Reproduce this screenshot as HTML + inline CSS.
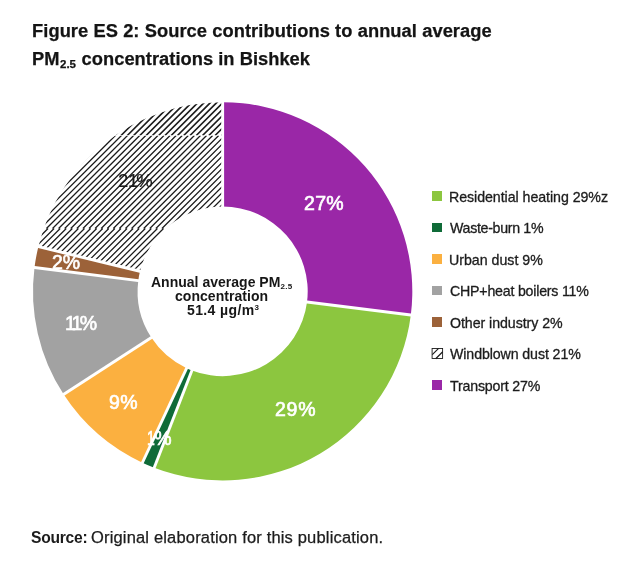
<!DOCTYPE html>
<html lang="en">
<head>
<meta charset="utf-8">
<title>Figure ES 2</title>
<style>
html,body{margin:0;padding:0;background:#fff;}
body{width:638px;height:568px;position:relative;overflow:hidden;font-family:"Liberation Sans",sans-serif;color:#1c1c1c;}
.t{position:absolute;white-space:nowrap;line-height:1;}
.title{font-weight:bold;color:#141414;-webkit-text-stroke:0.25px #141414;}
.title sub{font-size:11.5px;vertical-align:baseline;position:relative;top:3.4px;letter-spacing:0;margin:0 0.5px;}
.lg{-webkit-text-stroke:0.3px #1c1c1c;}
.lab{color:#fff;-webkit-text-stroke:0.65px #fff;}
.lab21{color:#1c1c1c;-webkit-text-stroke:0.2px #1c1c1c;}
.ctr{font-weight:bold;color:#161616;}
.ctr sub,.ctr sup{font-size:8px;vertical-align:baseline;position:relative;letter-spacing:0.3px;}
.ctr sub{top:2px;} .ctr sup{top:-4.5px;}
.srcb{font-weight:bold;}
.src{-webkit-text-stroke:0.25px #1c1c1c;transform:scaleX(1.03);transform-origin:0 0;}
.sq{position:absolute;left:432.2px;width:9.6px;height:9.7px;}
svg{position:absolute;left:0;top:0;}
</style>
</head>
<body>
<svg width="638" height="568" viewBox="0 0 638 568">
<defs><clipPath id="cw"><path d="M38.91 246.66A189.1 189.1 0 0 1 222.65 102.25L222.65 206.55A84.8 84.8 0 0 0 140.25 271.31Z"/></clipPath></defs>
<g transform="translate(222.65,0) scale(1.003,1) translate(-222.65,0)">
<path d="M222.65 102.25A189.1 189.1 0 0 1 410.26 315.05L306.78 301.98A84.8 84.8 0 0 0 222.65 206.55Z" fill="#9a27a7"/>
<path d="M410.26 315.05A189.1 189.1 0 0 1 154.45 467.72L192.07 370.44A84.8 84.8 0 0 0 306.78 301.98Z" fill="#8cc63f"/>
<path d="M154.45 467.72A189.1 189.1 0 0 1 142.61 462.68L186.76 368.18A84.8 84.8 0 0 0 192.07 370.44Z" fill="#0f6b38"/>
<path d="M142.61 462.68A189.1 189.1 0 0 1 64.06 394.34L151.53 337.54A84.8 84.8 0 0 0 186.76 368.18Z" fill="#fbb040"/>
<path d="M64.06 394.34A189.1 189.1 0 0 1 35.06 267.52L138.53 280.66A84.8 84.8 0 0 0 151.53 337.54Z" fill="#a2a2a2"/>
<path d="M35.06 267.52A189.1 189.1 0 0 1 38.91 246.66L140.25 271.31A84.8 84.8 0 0 0 138.53 280.66Z" fill="#9c6239"/>
<path d="M-3.65 135.50L31.85 100.00M2.60 135.50L38.10 100.00M8.85 135.50L44.35 100.00M15.10 135.50L50.60 100.00M21.35 135.50L56.85 100.00M27.60 135.50L63.10 100.00M33.85 135.50L69.35 100.00M40.10 135.50L75.60 100.00M46.35 135.50L81.85 100.00M52.60 135.50L88.10 100.00M58.85 135.50L94.35 100.00M65.10 135.50L100.60 100.00M71.35 135.50L106.85 100.00M77.60 135.50L113.10 100.00M83.85 135.50L119.35 100.00M90.10 135.50L125.60 100.00M96.35 135.50L131.85 100.00M102.60 135.50L138.10 100.00M108.85 135.50L144.35 100.00M115.10 135.50L150.60 100.00M121.35 135.50L156.85 100.00M127.60 135.50L163.10 100.00M133.85 135.50L169.35 100.00M140.10 135.50L175.60 100.00M146.35 135.50L181.85 100.00M152.60 135.50L188.10 100.00M158.85 135.50L194.35 100.00M165.10 135.50L200.60 100.00M171.35 135.50L206.85 100.00M177.60 135.50L213.10 100.00M183.85 135.50L219.35 100.00M190.10 135.50L225.60 100.00M196.35 135.50L231.85 100.00M202.60 135.50L238.10 100.00M208.85 135.50L244.35 100.00M215.10 135.50L250.60 100.00M221.35 135.50L256.85 100.00" stroke="#1c1c1c" stroke-width="1.7" fill="none" clip-path="url(#cw)"/>
<path d="M-62.12 228.50L30.88 135.50M-56.06 228.50L36.94 135.50M-50.00 228.50L43.00 135.50M-43.94 228.50L49.06 135.50M-37.88 228.50L55.12 135.50M-31.82 228.50L61.18 135.50M-25.76 228.50L67.24 135.50M-19.70 228.50L73.30 135.50M-13.64 228.50L79.36 135.50M-7.58 228.50L85.42 135.50M-1.52 228.50L91.48 135.50M4.54 228.50L97.54 135.50M10.60 228.50L103.60 135.50M16.66 228.50L109.66 135.50M22.72 228.50L115.72 135.50M28.78 228.50L121.78 135.50M34.84 228.50L127.84 135.50M40.90 228.50L133.90 135.50M46.96 228.50L139.96 135.50M53.02 228.50L146.02 135.50M59.08 228.50L152.08 135.50M65.14 228.50L158.14 135.50M71.20 228.50L164.20 135.50M77.26 228.50L170.26 135.50M83.32 228.50L176.32 135.50M89.38 228.50L182.38 135.50M95.44 228.50L188.44 135.50M101.50 228.50L194.50 135.50M107.56 228.50L200.56 135.50M113.62 228.50L206.62 135.50M119.68 228.50L212.68 135.50M125.74 228.50L218.74 135.50M131.80 228.50L224.80 135.50M137.86 228.50L230.86 135.50M143.92 228.50L236.92 135.50M149.98 228.50L242.98 135.50M156.04 228.50L249.04 135.50M162.10 228.50L255.10 135.50M168.16 228.50L261.16 135.50M174.22 228.50L267.22 135.50M180.28 228.50L273.28 135.50M186.34 228.50L279.34 135.50M192.40 228.50L285.40 135.50M198.46 228.50L291.46 135.50M204.52 228.50L297.52 135.50M210.58 228.50L303.58 135.50M216.64 228.50L309.64 135.50M222.70 228.50L315.70 135.50" stroke="#1c1c1c" stroke-width="1.25" fill="none" clip-path="url(#cw)"/>
<path d="M-16.12 275.00L30.38 228.50M-10.06 275.00L36.44 228.50M-4.00 275.00L42.50 228.50M2.06 275.00L48.56 228.50M8.12 275.00L54.62 228.50M14.18 275.00L60.68 228.50M20.24 275.00L66.74 228.50M26.30 275.00L72.80 228.50M32.36 275.00L78.86 228.50M38.42 275.00L84.92 228.50M44.48 275.00L90.98 228.50M50.54 275.00L97.04 228.50M56.60 275.00L103.10 228.50M62.66 275.00L109.16 228.50M68.72 275.00L115.22 228.50M74.78 275.00L121.28 228.50M80.84 275.00L127.34 228.50M86.90 275.00L133.40 228.50M92.96 275.00L139.46 228.50M99.02 275.00L145.52 228.50M105.08 275.00L151.58 228.50M111.14 275.00L157.64 228.50M117.20 275.00L163.70 228.50M123.26 275.00L169.76 228.50M129.32 275.00L175.82 228.50M135.38 275.00L181.88 228.50M141.44 275.00L187.94 228.50M147.50 275.00L194.00 228.50M153.56 275.00L200.06 228.50M159.62 275.00L206.12 228.50M165.68 275.00L212.18 228.50M171.74 275.00L218.24 228.50M177.80 275.00L224.30 228.50M183.86 275.00L230.36 228.50M189.92 275.00L236.42 228.50M195.98 275.00L242.48 228.50M202.04 275.00L248.54 228.50M208.10 275.00L254.60 228.50M214.16 275.00L260.66 228.50M220.22 275.00L266.72 228.50" stroke="#1c1c1c" stroke-width="1.25" fill="none" clip-path="url(#cw)"/>
<g stroke="#fff" stroke-width="2.9">
<line x1="222.65" y1="100.25" x2="222.65" y2="208.55"/>
<line x1="412.24" y1="315.30" x2="304.80" y2="301.73"/>
<line x1="153.73" y1="469.59" x2="192.79" y2="368.58"/>
<line x1="141.77" y1="464.49" x2="187.60" y2="366.37"/>
<line x1="62.38" y1="395.43" x2="153.21" y2="336.45"/>
<line x1="33.07" y1="267.27" x2="140.51" y2="280.92"/>
<line x1="36.96" y1="246.19" x2="142.20" y2="271.78"/>
</g>
</g>
<line x1="30" y1="135.5" x2="221" y2="135.5" stroke="#fff" stroke-width="0.8" opacity="0.8"/>
<rect x="432.1" y="348.5" width="10.5" height="10" fill="#fff" stroke="#1c1c1c" stroke-width="0.9"/>
<path d="M432.3 354.7L438.6 348.4M435.7 358.7L442.7 351.8" stroke="#1c1c1c" stroke-width="1.2" fill="none"/>
</svg>
<div class="sq" style="top:191.3px;background:#8cc63f"></div>
<div class="sq" style="top:222.8px;background:#0f6b38"></div>
<div class="sq" style="top:254.3px;background:#fbb040"></div>
<div class="sq" style="top:285.5px;background:#a2a2a2"></div>
<div class="sq" style="top:317.1px;background:#9c6239"></div>
<div class="sq" style="top:380.4px;background:#9a27a7"></div>
<div class="t title" id="t1" style="left:32.00px;top:21.51px;font-size:18.3px;letter-spacing:0.072px;">Figure ES 2: Source contributions to annual average</div>
<div class="t title" id="t2" style="left:32.00px;top:49.91px;font-size:18.3px;letter-spacing:0.033px;">PM<sub>2.5</sub> concentrations in Bishkek</div>
<div class="t lg" id="g0" style="left:449.00px;top:189.68px;font-size:14.2px;letter-spacing:-0.048px;">Residential heating 29%z</div>
<div class="t lg" id="g1" style="left:450.00px;top:221.18px;font-size:14.2px;letter-spacing:-0.309px;">Waste-burn 1%</div>
<div class="t lg" id="g2" style="left:449.00px;top:252.68px;font-size:14.2px;letter-spacing:0.001px;">Urban dust 9%</div>
<div class="t lg" id="g3" style="left:450.00px;top:283.98px;font-size:14.2px;letter-spacing:-0.211px;">CHP+heat boilers 11%</div>
<div class="t lg" id="g4" style="left:450.00px;top:315.58px;font-size:14.2px;letter-spacing:-0.056px;">Other industry 2%</div>
<div class="t lg" id="g5" style="left:450.00px;top:347.18px;font-size:14.2px;letter-spacing:-0.100px;">Windblown dust 21%</div>
<div class="t lg" id="g6" style="left:450.00px;top:378.78px;font-size:14.2px;letter-spacing:-0.190px;">Transport 27%</div>
<div class="t srcb" id="s1" style="left:31.00px;top:529.69px;font-size:15.6px;letter-spacing:-0.230px;">Source:</div>
<div class="t src" id="s2" style="left:91.00px;top:530.26px;font-size:16px;letter-spacing:0.170px;">Original elaboration for this publication.</div>
<div class="t ctr" id="c1" style="left:151.00px;top:275.25px;font-size:14px;letter-spacing:0.014px;">Annual average PM<sub>2.5</sub></div>
<div class="t ctr" id="c2" style="left:175.00px;top:289.15px;font-size:14px;letter-spacing:0.046px;">concentration</div>
<div class="t ctr" id="c3" style="left:187.00px;top:302.95px;font-size:14px;letter-spacing:0.384px;">51.4 µg/m<sup>3</sup></div>
<div class="t lab" id="l27" style="left:304.00px;top:194.24px;font-size:19.5px;letter-spacing:0.300px;">27%</div>
<div class="t lab" id="l29" style="left:275.00px;top:400.19px;font-size:19.5px;letter-spacing:0.750px;">29%</div>
<div class="t lab" id="l9" style="left:109.00px;top:393.19px;font-size:19.5px;letter-spacing:0.400px;">9%</div>
<div class="t lab" id="l1" style="left:147.40px;top:428.69px;font-size:19.5px;letter-spacing:-0.500px;"><span style="display:inline-block;transform:scaleX(0.72);transform-origin:0 0;margin-right:-3.4px">1</span>%</div>
<div class="t lab" id="l2" style="left:52.00px;top:253.09px;font-size:19.5px;letter-spacing:-0.100px;">2%</div>
<div class="t lab" id="l11" style="left:65.00px;top:314.39px;font-size:19.5px;letter-spacing:-1.250px;"><span style="margin-right:-3.2px">1</span><span style="margin-right:-1.3px">1</span>%</div>
<div class="t lab21" id="l21" style="left:118.00px;top:171.64px;font-size:18.5px;letter-spacing:0.500px;">2<span style="margin-left:-0.9px;margin-right:-2.4px">1</span>%</div>
</body>
</html>
